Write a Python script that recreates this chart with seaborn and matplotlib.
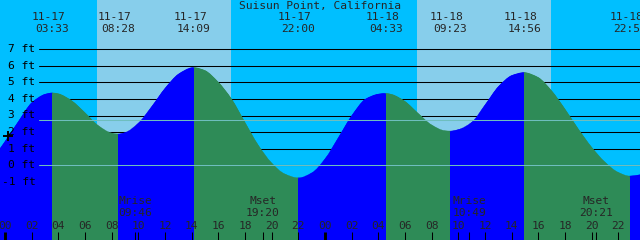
import matplotlib
matplotlib.use("Agg")
import matplotlib.pyplot as plt
import matplotlib.transforms as mtransforms
from matplotlib.path import Path
import numpy as np
import pandas as pd
import seaborn as sns

# ---------------- data ----------------
title = "Suisun Point, California"

# tide curve (hours from 11-17 00:00, feet)
curve_hours = [-0.375, 0, 1, 2, 3, 3.55, 4, 5, 6, 7, 8, 8.467, 9, 10, 11, 12, 13, 14, 14.15,
               15, 16, 17, 18, 19, 20, 21, 22.0, 23, 24, 25, 26, 27, 28, 28.55, 29, 30, 31, 32, 33,
               33.383, 34, 35, 36, 37, 38, 38.933, 40, 41, 42, 43, 44, 45, 46, 46.85, 47.625]
curve_feet = [1.02, 1.45, 2.65, 3.78, 4.29, 4.37, 4.32, 3.90, 3.18, 2.40, 1.95, 1.89, 1.98, 2.55, 3.55,
              4.65, 5.50, 5.89, 5.90, 5.72, 5.02, 4.00, 2.60, 1.22, 0.15, -0.52, -0.75, -0.45, 0.40,
              1.68, 3.00, 3.98, 4.30, 4.34, 4.28, 3.86, 3.13, 2.44, 2.09, 2.07, 2.16, 2.60, 3.65,
              4.75, 5.42, 5.60, 5.30, 4.50, 3.40, 2.20, 1.10, 0.20, -0.42, -0.64, -0.56]

# high / low tide events
event_hours = [3.55, 8.467, 14.15, 22.0, 28.55, 33.383, 38.933, 46.85]
event_kind = ["high", "low", "high", "low", "high", "low", "high", "low"]
event_dates = ["11-17", "11-17", "11-17", "11-17", "11-18", "11-18", "11-18", "11-18"]
event_times = ["03:33", "08:28", "14:09", "22:00", "04:33", "09:23", "14:56", "22:51"]

# sun (day shading) and moon events
sunrise_hours = [6.88, 30.88]
sunset_hours = [16.95, 40.95]
moon_hours = [9.767, 19.333, 34.817, 44.35]
moon_labels = ["Mrise", "Mset", "Mrise", "Mset"]
moon_times = ["09:46", "19:20", "10:49", "20:21"]

# reference levels
ft_levels = [-1, 0, 1, 2, 3, 4, 5, 6, 7]
ft_labels = ["-1 ft", "0 ft", "1 ft", "2 ft", "3 ft", "4 ft", "5 ft", "6 ft", "7 ft"]
mean_level = 2.71
datum_level = 0.0
hour_ticks = list(range(0, 48, 2))
hour_labels = ["%02d" % (h % 24) for h in hour_ticks]
midnight_hours = [0, 24]
marker_pos = (0.26, 1.77)

# ---------------- style ----------------
NIGHT = "#00BFFF"
DAY = "#87CEEB"
RISE = "#0000FF"
FALL = "#2E8B57"
MARK = "#6EBEBE"

sns.set_theme(style="white")
plt.rcParams["font.family"] = ["DejaVu Sans Mono"]
FS = 8.1

W, H = 640, 240
x0_px, px_per_h = 5.0, 40.0 / 3.0
xlim = (-x0_px / px_per_h, (W - x0_px) / px_per_h)
ft0_px, px_per_ft = 165.3, 16.6
ylim = ((ft0_px - H) / px_per_ft, ft0_px / px_per_ft)

fig = plt.figure(figsize=(6.4, 2.4), dpi=100, facecolor=NIGHT)
ax = fig.add_axes([0, 0, 1, 1])
ax.set_xlim(*xlim)
ax.set_ylim(*ylim)

def ay(px):
    return 1 - px / H

def ax_x(px):
    return px / W

blend = mtransforms.blended_transform_factory(ax.transData, ax.transAxes)
blend_y = mtransforms.blended_transform_factory(ax.transAxes, ax.transData)

# day shading
for a, b in zip(sunrise_hours, sunset_hours):
    ax.axvspan(a, b, color=DAY, lw=0, zorder=0)

# black ft lines (behind tide)
for lv in ft_levels:
    ax.axhline(lv, xmin=ax_x(39), xmax=1, color="black", lw=0.75, zorder=1, snap=True)

# ---- smooth tide outline (monotone cubic rendering through the read points) ----
xs = np.asarray(curve_hours, float)
ys = np.asarray(curve_feet, float)
hh = np.diff(xs)
dd = np.diff(ys) / hh
m = np.zeros_like(xs)
m[0], m[-1] = dd[0], dd[-1]
for k in range(1, len(xs) - 1):
    if dd[k - 1] * dd[k] <= 0:
        m[k] = 0.0
    else:
        w1 = 2 * hh[k] + hh[k - 1]
        w2 = hh[k] + 2 * hh[k - 1]
        m[k] = (w1 + w2) / (w1 / dd[k - 1] + w2 / dd[k])
verts = [(xs[0], ys[0])]
codes = [Path.MOVETO]
for k in range(len(xs) - 1):
    verts += [(xs[k] + hh[k] / 3, ys[k] + m[k] * hh[k] / 3),
              (xs[k + 1] - hh[k] / 3, ys[k + 1] - m[k + 1] * hh[k] / 3),
              (xs[k + 1], ys[k + 1])]
    codes += [Path.CURVE4] * 3
verts += [(xs[-1], ylim[0] - 1), (xs[0], ylim[0] - 1), (xs[0], ys[0])]
codes += [Path.LINETO, Path.LINETO, Path.CLOSEPOLY]
tide_path = Path(verts, codes)

# rising / falling phases
bounds = [curve_hours[0]] + event_hours + [curve_hours[-1]]
kinds_after = event_kind + ["high"]
palette = {"rising": RISE, "falling": FALL}
rows = []
for i in range(len(bounds) - 1):
    a, b = bounds[i], bounds[i + 1]
    phase = "rising" if kinds_after[i] == "high" else "falling"
    span = ax.axvspan(a, b, color=palette[phase], lw=0, zorder=2)
    span.set_clip_path(tide_path, ax.transData)
    for h, f in zip(curve_hours, curve_feet):
        if a - 1e-9 <= h <= b + 1e-9:
            rows.append({"hours": h, "feet": f, "phase": phase, "seg": i})
df = pd.DataFrame(rows)

n_before = len(ax.lines)
sns.lineplot(data=df, x="hours", y="feet", hue="phase", units="seg", estimator=None,
             palette=palette, legend=False, lw=0.8, ax=ax, zorder=2.1)
for ln in ax.lines[n_before:]:
    ln.set_clip_path(tide_path, ax.transData)

# mean & datum lines
for lv in (mean_level, datum_level):
    ax.axhline(lv, xmin=ax_x(39), xmax=1, color=MARK, lw=0.75, zorder=3, snap=True)

# ft labels
for lv, lab in zip(ft_levels, ft_labels):
    ax.text(ax_x(35.5), lv, lab, transform=blend_y, ha="right", va="center",
            fontsize=FS, color="black", zorder=5)

ax.plot([marker_pos[0]], [marker_pos[1]], marker="+", ms=6.5, mew=1.4, color="black", zorder=5)

# title
ax.text(0.5, ay(5.5), title, transform=ax.transAxes, ha="center", va="center", fontsize=FS, zorder=5)

# event labels
date_shift = mtransforms.offset_copy(blend, fig=fig, x=-2.45, y=0, units="points")
for h, d, t in zip(event_hours, event_dates, event_times):
    ax.text(h, ay(17.2), d, transform=date_shift, ha="center", va="center", fontsize=FS, zorder=5)
    ax.text(h, ay(29.3), t, transform=blend, ha="center", va="center", fontsize=FS, zorder=5)

# moon labels
for h, l, t in zip(moon_hours, moon_labels, moon_times):
    ax.text(h, ay(201.5), l, transform=blend, ha="center", va="center", fontsize=FS, zorder=5)
    ax.text(h, ay(213.5), t, transform=blend, ha="center", va="center", fontsize=FS, zorder=5)

# hour ticks and labels
tick_hours = [h for h in hour_ticks if h not in midnight_hours]
ax.vlines(tick_hours, 0, ay(232), transform=blend, color="black", lw=0.75, zorder=4, snap=True)
ax.vlines(moon_hours, 0, ay(232), transform=blend, color="black", lw=0.75, zorder=4, snap=True)
ax.vlines(midnight_hours, 0, ay(232), transform=blend, color="black", lw=2.1, zorder=4, snap=True)
for h, lab in zip(hour_ticks, hour_labels):
    ax.text(h, ay(226), lab, transform=blend, ha="center", va="center", fontsize=FS, zorder=5)

ax.set_axis_off()
fig.savefig("out.png", dpi=100, facecolor=NIGHT)
